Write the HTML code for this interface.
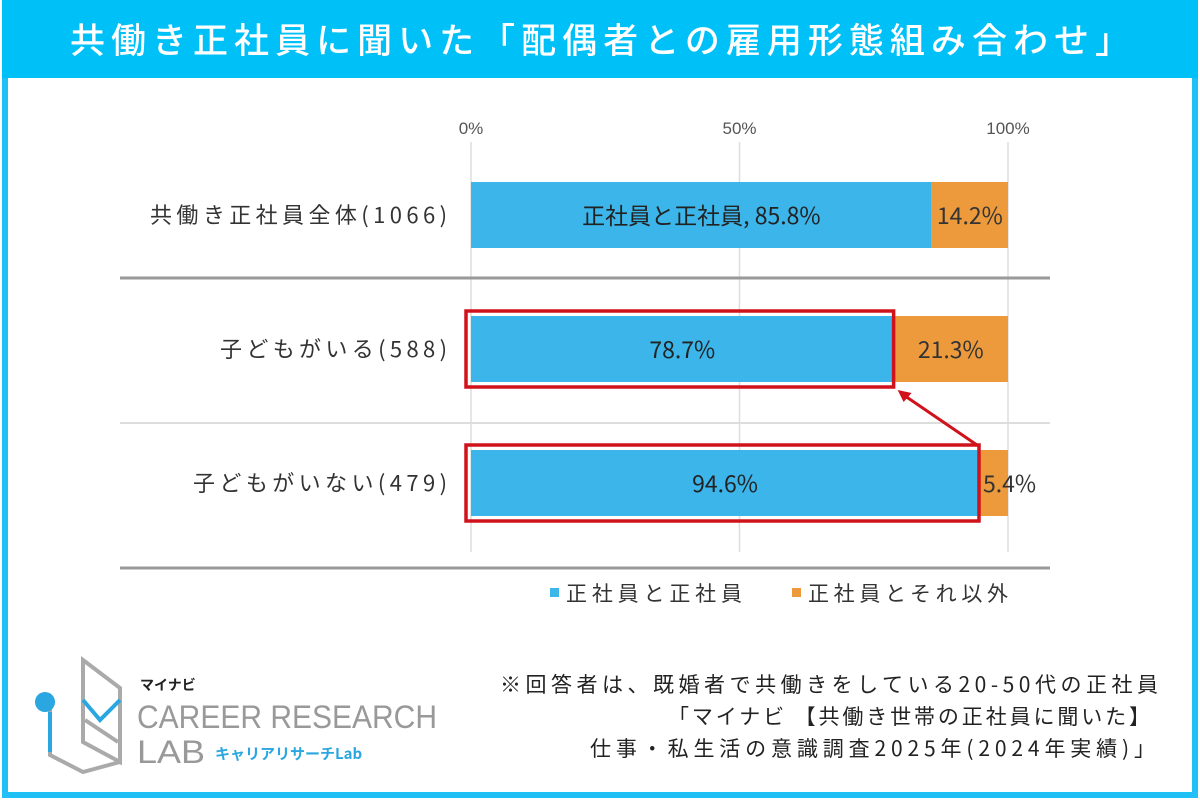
<!DOCTYPE html>
<html><head><meta charset="utf-8"><style>
body{margin:0;width:1200px;height:800px;overflow:hidden;background:#fff;font-family:"Liberation Sans","Noto Sans CJK JP",sans-serif}
</style></head><body>
<svg id="c" width="1200" height="800" xmlns="http://www.w3.org/2000/svg">
<rect x="5" y="3" width="1190" height="792" fill="#fff" stroke="#1ec0f5" stroke-width="6"/>
<rect x="2" y="0" width="1196" height="78" fill="#00c0f8"/>
<text x="600" y="53" text-anchor="middle" font-size="35" fill="#fff" font-weight="500" textLength="1060" font-family="Noto Sans CJK JP, sans-serif">共働き正社員に聞いた「配偶者との雇用形態組み合わせ」</text>
<g id="plot"></g>
<g>
<rect x="550" y="588" width="9" height="9" fill="#3bb5ea"/>
<text x="566" y="601" font-size="21" fill="#333" textLength="176" font-family="Noto Sans CJK JP, sans-serif">正社員と正社員</text>
<rect x="792" y="588" width="9" height="9" fill="#ec9a3c"/>
<text x="808" y="601" font-size="21" fill="#333" textLength="200" font-family="Noto Sans CJK JP, sans-serif">正社員とそれ以外</text>
</g>
<g>
<polygon points="83,660 120,688 120,762 83,742" fill="none" stroke="#aaa" stroke-width="4"/>
<polyline points="83,700 100,720 120,700" fill="none" stroke="#2aa6e0" stroke-width="4"/>
<polyline points="50,705 50,755 83,772 120,762" fill="none" stroke="#aaa" stroke-width="4"/>
<line x1="50" y1="712" x2="50" y2="752" stroke="#2aa6e0" stroke-width="4"/>
<circle cx="45" cy="702" r="10" fill="#2aa6e0"/>
<line x1="85" y1="720" x2="118" y2="742" stroke="#aaa" stroke-width="4"/>
<text x="140" y="690" font-size="14" font-weight="bold" fill="#222" font-family="Noto Sans CJK JP, sans-serif">マイナビ</text>
<text x="137" y="728" font-size="32" fill="#999" textLength="300" lengthAdjust="spacingAndGlyphs">CAREER RESEARCH</text>
<text x="137" y="763" font-size="32" fill="#999" textLength="68" lengthAdjust="spacingAndGlyphs">LAB</text>
<text x="215" y="759" font-size="15" font-weight="bold" fill="#2aa6e0" font-family="Noto Sans CJK JP, sans-serif">キャリアリサーチLab</text>
</g>
<g font-size="21" fill="#222" font-family="Noto Sans CJK JP, sans-serif">
<text x="500" y="692" textLength="658">※回答者は、既婚者で共働きをしている20-50代の正社員</text>
<text x="668" y="724" textLength="482">「マイナビ 【共働き世帯の正社員に聞いた】</text>
<text x="590" y="756" textLength="565">仕事・私生活の意識調査2025年(2024年実績)」</text>
</g>
</svg>
<script>
const categories=["共働き正社員全体(1066)","子どもがいる(588)","子どもがいない(479)"];
const seriesFull=[85.8,78.7,94.6];
const seriesOther=[14.2,21.3,5.4];
const ticks=[0,50,100];
const tickLabels=["0%","50%","100%"];
const NS="http://www.w3.org/2000/svg";
const g=document.getElementById('plot');
const x=v=>471+v*(1008-471)/100;
const rowY=i=>182+i*134;
const bh=66;
const labelW=[297,227,254];
function mk(t,a,txt){const e=document.createElementNS(NS,t);for(const k in a)e.setAttribute(k,a[k]);if(txt!==undefined)e.textContent=txt;g.appendChild(e);return e;}
ticks.forEach((t,i)=>{
 const l=mk('line',{x1:x(t),x2:x(t),y1:142,y2:552,stroke:'#ddd','stroke-width':1.5});
 
 
 const tx=mk('text',{x:x(t),y:134,'text-anchor':'middle','font-size':17,fill:'#555'},tickLabels[i]);
 
 
});
[[278,'#999',3],[423,'#ddd',2],[568,'#999',3]].forEach(s=>{
 const l=mk('line',{x1:120,x2:1050,y1:s[0],y2:s[0],stroke:s[1],'stroke-width':s[2]});
 
 
});
categories.forEach((c,i)=>{
 const y=rowY(i);
 const lab=mk('text',{x:447-labelW[i],y:y+bh/2+8,textLength:labelW[i],'font-size':22,fill:'#333','font-family':'Noto Sans CJK JP, sans-serif'},c);
 
 
 const b1=mk('rect',{x:x(0),y:y,width:x(seriesFull[i])-x(0),height:bh,fill:'#3bb5ea'});
 
 
 const b2=mk('rect',{x:x(seriesFull[i]),y:y,width:x(seriesFull[i]+seriesOther[i])-x(seriesFull[i]),height:bh,fill:'#ec9a3c'});
 
 
 const t1=mk('text',{x:(x(0)+x(seriesFull[i]))/2,y:y+bh/2+9,'text-anchor':'middle','font-size':23,fill:'#222','font-family':'Noto Sans CJK JP, sans-serif'},(i===0?'正社員と正社員, ':'')+seriesFull[i].toFixed(1)+'%');
 
 
 const t2=mk('text',{x:(x(seriesFull[i])+x(100))/2+(i===2?16:0),y:y+bh/2+9,'text-anchor':'middle','font-size':23,fill:'#333','font-family':'Noto Sans CJK JP, sans-serif'},seriesOther[i].toFixed(1)+'%');
 
 
 if(i>0){
  const r=mk('rect',{x:x(0)-5,y:y-5,width:x(seriesFull[i])-x(0)+5,height:bh+10,fill:'none',stroke:'#d0121b','stroke-width':3.5});
  
  
 }
});
const ax1=x(seriesFull[2])-2, ay1=rowY(2)-5, ax2=x(seriesFull[1])+4, ay2=rowY(1)+bh+8;
const ar=mk('line',{x1:ax1,y1:ay1,x2:ax2+6,y2:ay2+5,stroke:'#d0121b','stroke-width':3});


const ah=mk('polygon',{points:`${ax2},${ay2} ${ax2+14},${ay2+3} ${ax2+6},${ay2+12}`,fill:'#d0121b'});


</script>
</body></html>
